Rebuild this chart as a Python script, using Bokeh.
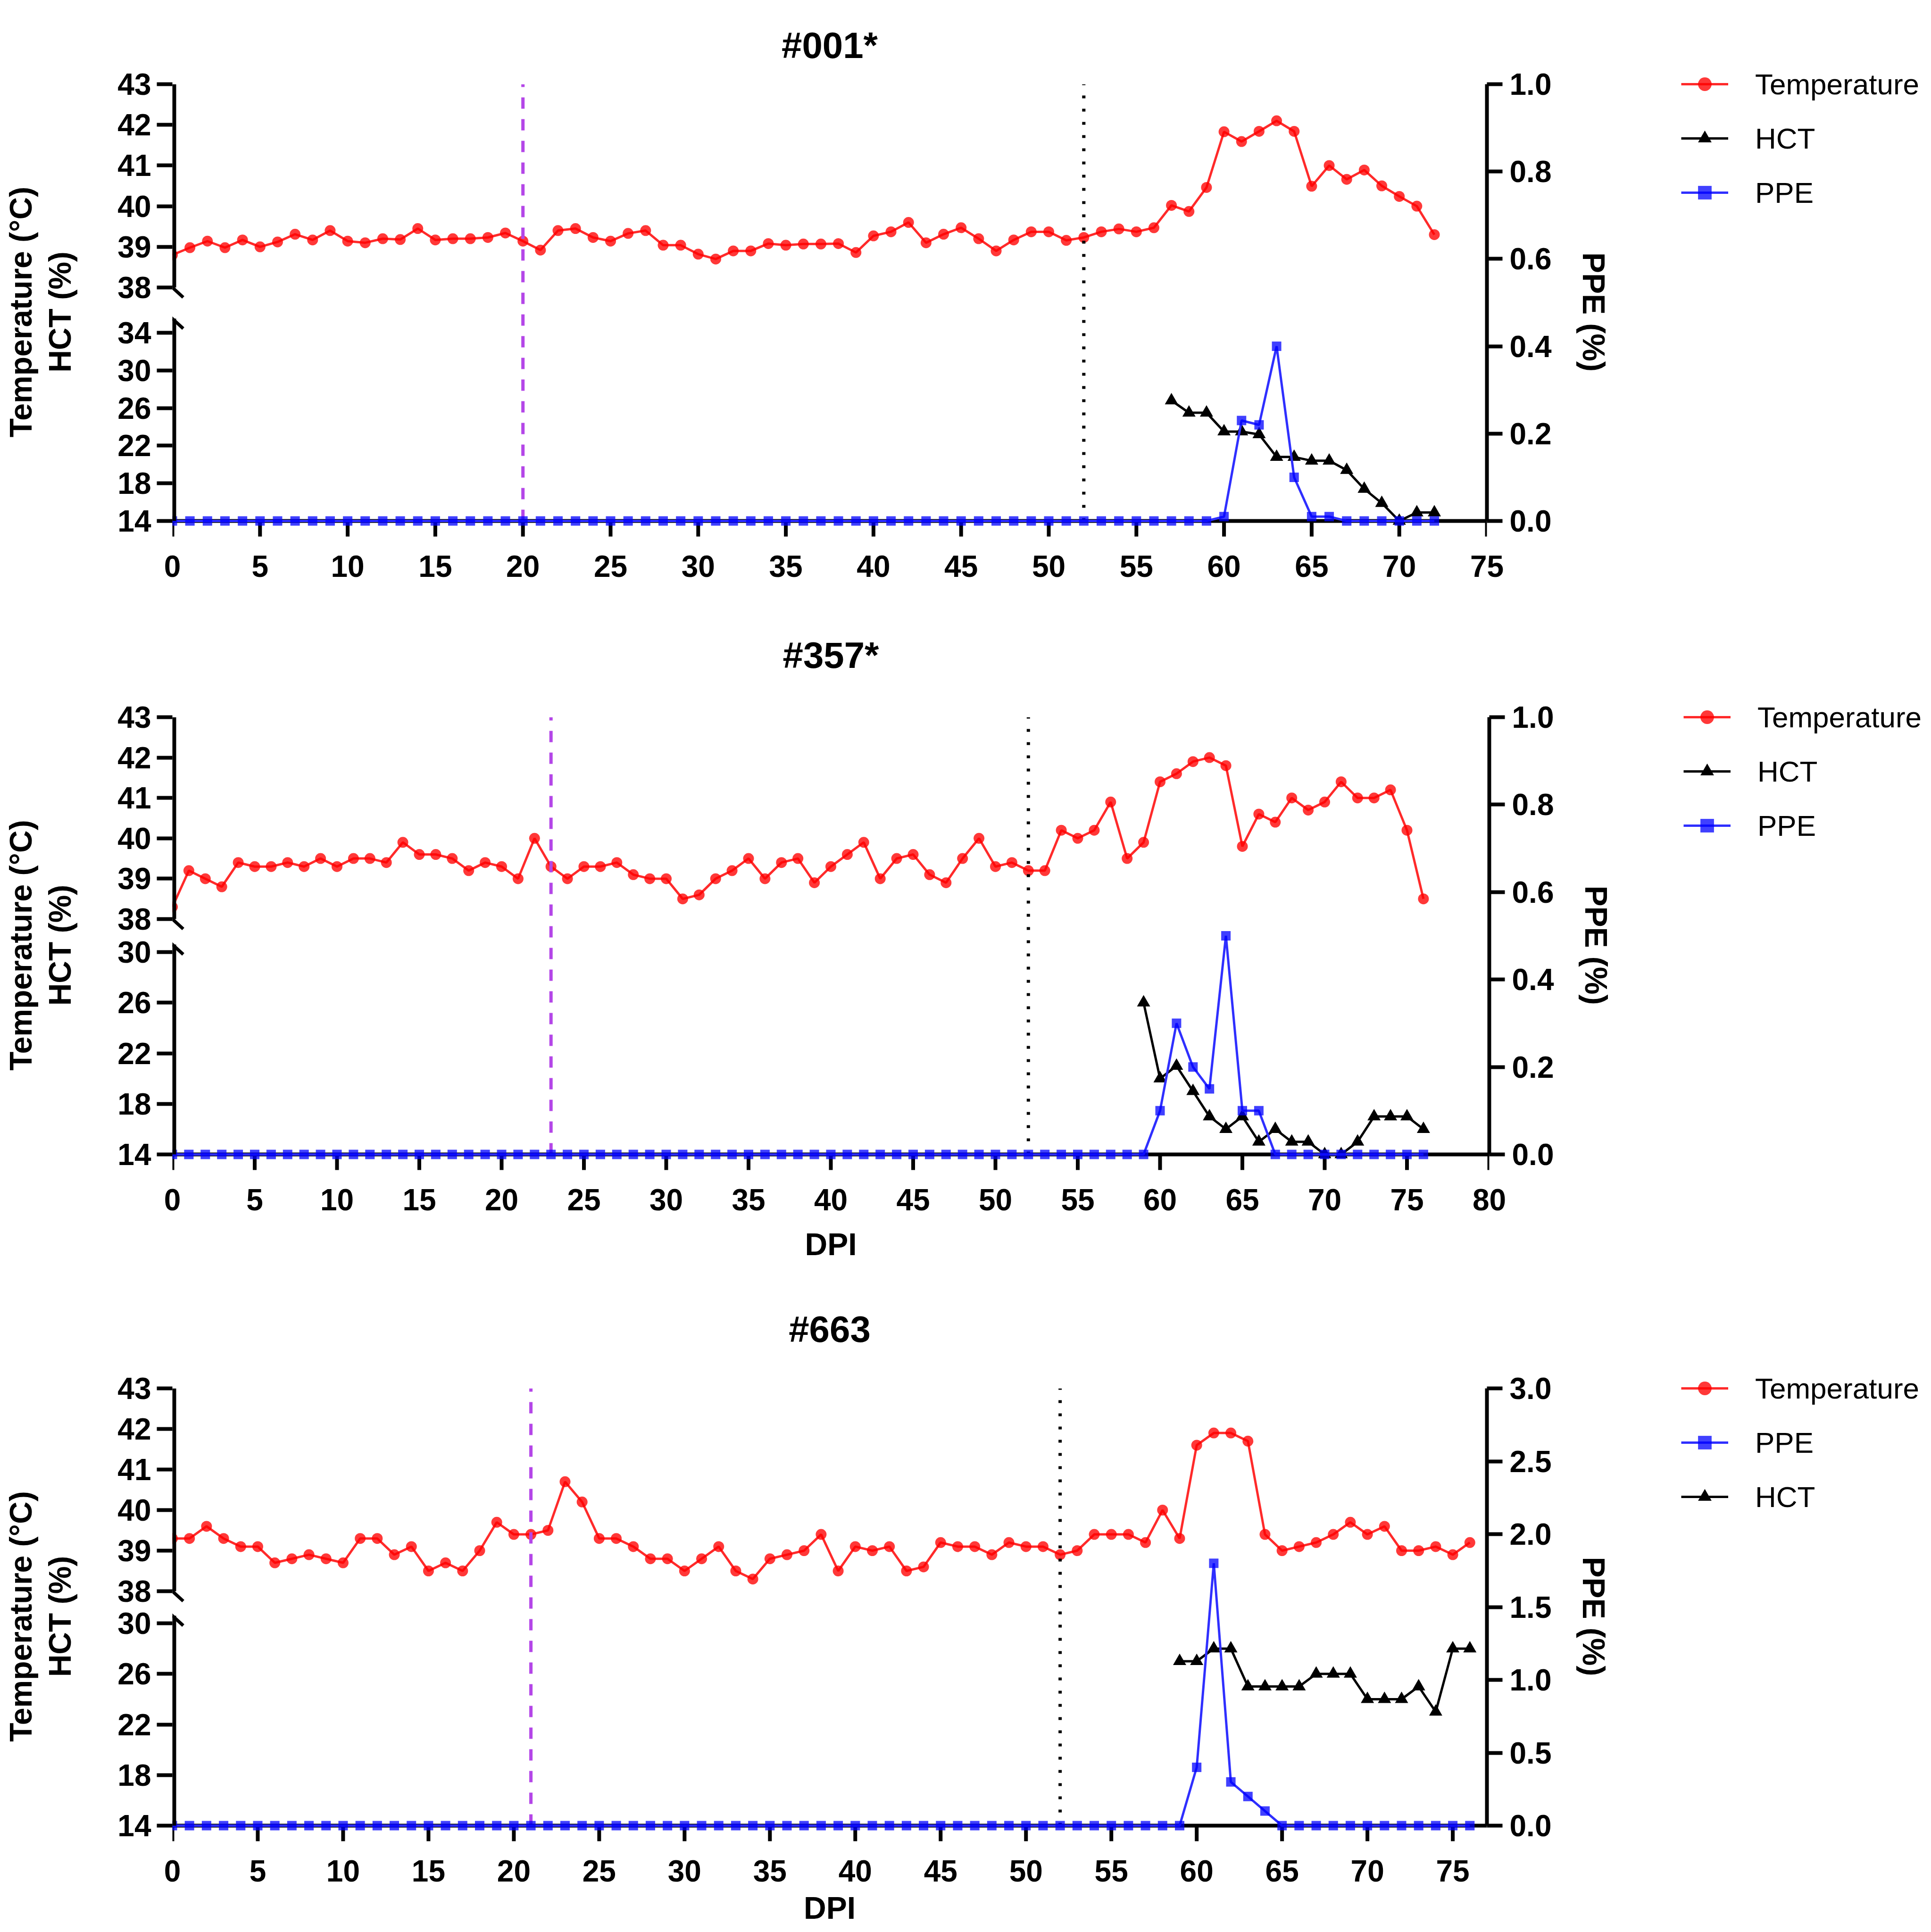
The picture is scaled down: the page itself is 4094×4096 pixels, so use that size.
from bokeh.plotting import figure
from bokeh.layouts import column
from bokeh.models import (Range1d, LinearAxis, FixedTicker, PrintfTickFormatter,
                          Legend, LegendItem)
from bokeh.embed import file_html
from bokeh.resources import INLINE

FONT = "Liberation Sans"
RED = "#FF2A2A"
BLUE = "#2F2FFF"
PURPLE = "#B446E8"

titles = ["#001*", "#357*", "#663"]

# ---------------- data: #001* ----------------
temp_001 = [38.8, 38.98, 39.14, 38.98, 39.17, 39.0, 39.12, 39.31, 39.17, 39.4,
            39.14, 39.1, 39.2, 39.18, 39.45, 39.17, 39.2, 39.2, 39.23, 39.34,
            39.14, 38.92, 39.4, 39.45, 39.23, 39.14, 39.33, 39.4, 39.04, 39.04,
            38.82, 38.7, 38.9, 38.9, 39.08, 39.04, 39.07, 39.07, 39.08, 38.86,
            39.27, 39.37, 39.6, 39.1, 39.31, 39.47, 39.2, 38.9, 39.17, 39.37,
            39.37, 39.16, 39.23, 39.37, 39.44, 39.37, 39.47, 40.02, 39.87, 40.46,
            41.83, 41.59, 41.84, 42.1, 41.84, 40.49, 41.0, 40.66, 40.89, 40.5,
            40.24, 40.0, 39.3]
hct_days_001 = [57, 58, 59, 60, 61, 62, 63, 64, 65, 66, 67, 68, 69, 70, 71, 72]
hct_001 = [26.8, 25.5, 25.5, 23.5, 23.5, 23.2, 20.8, 20.8, 20.4, 20.4, 19.4,
           17.4, 15.9, 14.0, 14.9, 14.9]
ppe_001 = [0.0] * 60 + [0.01, 0.23, 0.22, 0.40, 0.10, 0.01, 0.01,
                        0.0, 0.0, 0.0, 0.0, 0.0, 0.0]

# ---------------- data: #357* ----------------
temp_357 = [38.3, 39.2, 39.0, 38.8, 39.4, 39.3, 39.3, 39.4, 39.3, 39.5,
            39.3, 39.5, 39.5, 39.4, 39.9, 39.6, 39.6, 39.5, 39.2, 39.4,
            39.3, 39.0, 40.0, 39.3, 39.0, 39.3, 39.3, 39.4, 39.1, 39.0,
            39.0, 38.5, 38.6, 39.0, 39.2, 39.5, 39.0, 39.4, 39.5, 38.9,
            39.3, 39.6, 39.9, 39.0, 39.5, 39.6, 39.1, 38.9, 39.5, 40.0,
            39.3, 39.4, 39.2, 39.2, 40.2, 40.0, 40.2, 40.9, 39.5, 39.9,
            41.4, 41.6, 41.9, 42.0, 41.8, 39.8, 40.6, 40.4, 41.0, 40.7,
            40.9, 41.4, 41.0, 41.0, 41.2, 40.2, 38.5]
hct_days_357 = list(range(59, 77))
hct_357 = [26, 20, 21, 19, 17, 16, 17, 15, 16, 15, 15, 14, 14, 15, 17, 17, 17, 16]
ppe_357 = [0.0] * 60 + [0.1, 0.3, 0.2, 0.15, 0.5, 0.1, 0.1,
                        0.0, 0.0, 0.0, 0.0, 0.0, 0.0, 0.0, 0.0, 0.0, 0.0]

# ---------------- data: #663 ----------------
temp_663 = [39.3, 39.3, 39.6, 39.3, 39.1, 39.1, 38.7, 38.8, 38.9, 38.8,
            38.7, 39.3, 39.3, 38.9, 39.1, 38.5, 38.7, 38.5, 39.0, 39.7,
            39.4, 39.4, 39.5, 40.7, 40.2, 39.3, 39.3, 39.1, 38.8, 38.8,
            38.5, 38.8, 39.1, 38.5, 38.3, 38.8, 38.9, 39.0, 39.4, 38.5,
            39.1, 39.0, 39.1, 38.5, 38.6, 39.2, 39.1, 39.1, 38.9, 39.2,
            39.1, 39.1, 38.9, 39.0, 39.4, 39.4, 39.4, 39.2, 40.0, 39.3,
            41.6, 41.9, 41.9, 41.7, 39.4, 39.0, 39.1, 39.2, 39.4, 39.7,
            39.4, 39.6, 39.0, 39.0, 39.1, 38.9, 39.2]
hct_days_663 = list(range(59, 77))
hct_663 = [27, 27, 28, 28, 25, 25, 25, 25, 26, 26, 26, 24, 24, 24, 25, 23, 28, 28]
ppe_663 = [0.0] * 60 + [0.4, 1.8, 0.3, 0.2, 0.1] + [0.0] * 12

# vertical event lines (DPI): first = purple dashed, second = black dotted
events_001 = [20, 52]
events_357 = [23, 52]
events_663 = [21, 52]

temp_ticks = [38, 39, 40, 41, 42, 43]
hct_ticks_001 = [14, 18, 22, 26, 30, 34]
hct_ticks_other = [14, 18, 22, 26, 30]

PAD = 40        # frame space below the x axis line (px)
TICK = 33       # tick length (px)


def style_axis(ax):
    ax.axis_line_width = 8
    ax.axis_line_color = "black"
    ax.major_tick_line_width = 8
    ax.major_tick_line_color = "black"
    ax.major_tick_out = TICK
    ax.major_tick_in = 0
    ax.minor_tick_line_color = None
    ax.major_label_text_font = FONT
    ax.major_label_text_font_style = "bold"
    ax.major_label_text_font_size = "64px"
    ax.major_label_text_color = "black"
    ax.axis_label_text_font = FONT
    ax.axis_label_text_font_style = "bold"
    ax.axis_label_text_font_size = "66px"
    ax.axis_label_text_color = "black"


def make_panel(title, temp, hct_days, hct, ppe, events, xmax, ppe_max, ppe_step,
               hct_ticks, hct_break, legend_order, geom, xlabel, dpi_standoff):
    H = geom["H"]          # px from x axis (PPE 0) to frame top (PPE max)
    fw = geom["axis_px"]   # frame width (day 0 .. xmax)
    y38 = geom["y38"]      # px above the x axis of temperature 38
    yh = geom["yh"]        # px above the x axis of the top HCT tick
    T = geom["top"]
    ppd = fw / xmax
    fh = H + PAD

    p_pp = ppe_max / H
    t_pp = 5.0 / (H - y38)
    h_pp = (hct_ticks[-1] - 14) / yh
    t_lo = 38 - (y38 + PAD) * t_pp
    h_lo = 14 - PAD * h_pp
    h_hi = 14 + H * h_pp

    p = figure(frame_width=fw, frame_height=fh,
               x_range=Range1d(0, xmax), y_range=Range1d(-PAD * p_pp, ppe_max),
               output_backend="svg", toolbar_location=None,
               x_axis_location=None, y_axis_location=None,
               min_border_left=365, min_border_right=4078 - 365 - fw,
               min_border_top=T, min_border_bottom=geom["bottom"])
    p.extra_y_ranges = {"temp": Range1d(t_lo, 43), "hct": Range1d(h_lo, h_hi)}
    p.grid.visible = False
    p.outline_line_color = None
    p.background_fill_color = "white"
    p.border_fill_color = "white"

    # title
    p.title.text = title
    p.title.align = "center"
    p.title.text_font = FONT
    p.title.text_font_style = "bold"
    p.title.text_font_size = "78px"
    p.title.text_color = "black"
    p.title.standoff = max(T - 100, 0)

    # left axis: temperature (38-43) and HCT ticks on one broken axis
    def hct_to_temp(v):
        return round(38 - (y38 - (v - 14) / h_pp) * t_pp, 6)
    left_ticks = [float(t) for t in temp_ticks] + [hct_to_temp(v) for v in hct_ticks]
    overrides = {float(t): str(t) for t in temp_ticks}
    for v in hct_ticks:
        overrides[hct_to_temp(v)] = str(v)
    ax_l = LinearAxis(y_range_name="temp", ticker=FixedTicker(ticks=left_ticks),
                      major_label_overrides=overrides,
                      axis_label="Temperature (°C)\nHCT (%)")
    style_axis(ax_l)
    ax_l.axis_line_color = None
    ax_l.major_label_standoff = 12
    ax_l.axis_label_standoff = 82
    ax_l.axis_label_text_align = "center"
    ax_l.axis_label_text_line_height = 1.12
    p.add_layout(ax_l, "left")

    # right axis: PPE
    nppe = int(round(ppe_max / ppe_step))
    ppe_ticks = [round(i * ppe_step, 3) for i in range(nppe + 1)]
    ax_p = LinearAxis(ticker=FixedTicker(ticks=ppe_ticks), bounds=(0, ppe_max),
                      formatter=PrintfTickFormatter(format="%.1f"),
                      axis_label="PPE (%)")
    style_axis(ax_p)
    ax_p.major_label_standoff = 15
    ax_p.axis_label_standoff = 50
    p.add_layout(ax_p, "right")

    # bottom axis: labels only (line and ticks are drawn at PPE 0 below)
    x_ticks = list(range(0, xmax + 1, 5))
    ax_x = LinearAxis(ticker=FixedTicker(ticks=x_ticks), axis_label=xlabel)
    style_axis(ax_x)
    ax_x.axis_line_color = None
    ax_x.major_tick_line_color = None
    ax_x.major_tick_out = 0
    ax_x.major_label_standoff = 33
    ax_x.axis_label_standoff = dpi_standoff
    p.add_layout(ax_x, "below")

    # temperature
    tdays = list(range(len(temp)))
    r_tl = p.line(tdays, temp, y_range_name="temp", line_color=RED, line_width=5)
    r_ts = p.scatter(tdays, temp, y_range_name="temp", marker="circle", size=23,
                     fill_color="#FF0000", fill_alpha=0.78, line_color=None)

    # event lines
    p.segment(x0=[events[0]], y0=[0], x1=[events[0]], y1=[ppe_max],
              line_color=PURPLE, line_width=7, line_dash="24 22")
    p.segment(x0=[events[1]], y0=[0], x1=[events[1]], y1=[ppe_max],
              line_color="black", line_width=7, line_dash="6 22")

    # HCT
    r_hl = p.line(hct_days, hct, y_range_name="hct", line_color="black", line_width=5)
    r_hs = p.scatter(hct_days, hct, y_range_name="hct", marker="triangle", size=28,
                     fill_color="black", line_color=None)

    # x axis line and ticks at PPE 0
    p.segment(x0=[0], y0=[0], x1=[xmax], y1=[0], line_color="black", line_width=8)
    p.segment(x0=x_ticks, y0=[0] * len(x_ticks), x1=x_ticks,
              y1=[-TICK * p_pp] * len(x_ticks), line_color="black", line_width=8)

    # PPE
    pdays = list(range(len(ppe)))
    r_pl = p.line(pdays, ppe, line_color=BLUE, line_width=5)
    r_ps = p.scatter(pdays, ppe, marker="square", size=20,
                     fill_color="#0000FF", fill_alpha=0.75, line_color=None)

    # broken left axis line (two pieces) with break marks
    p.segment(x0=[0], y0=[38], x1=[0], y1=[43], y_range_name="temp",
              line_color="black", line_width=16)
    p.segment(x0=[0], y0=[14], x1=[0], y1=[hct_break], y_range_name="hct",
              line_color="black", line_width=16)
    sx = 23 / ppd
    p.segment(x0=[-sx], y0=[38 + 21 * t_pp], x1=[sx], y1=[38 - 21 * t_pp],
              y_range_name="temp", line_color="black", line_width=7)
    p.segment(x0=[-sx], y0=[hct_break + 21 * h_pp], x1=[sx],
              y1=[hct_break - 21 * h_pp], y_range_name="hct",
              line_color="black", line_width=7)

    # legend (right of the PPE axis)
    rmap = {"Temperature": [r_tl, r_ts], "HCT": [r_hl, r_hs], "PPE": [r_pl, r_ps]}
    items = [LegendItem(label=k, renderers=rmap[k]) for k in legend_order]
    lh = 3 * 72 + 2 * 43
    legend = Legend(items=items, location=(-55, fh + 36 - lh),
                    label_text_font=FONT, label_text_font_size="62px",
                    label_text_color="black",
                    glyph_width=100, glyph_height=72, label_height=72,
                    label_standoff=57, spacing=43, padding=0, margin=0,
                    border_line_color=None, background_fill_alpha=0)
    p.add_layout(legend, "right")
    return p


p1 = make_panel(titles[0], temp_001, hct_days_001, hct_001, ppe_001, events_001,
                xmax=75, ppe_max=1.0, ppe_step=0.2, hct_ticks=hct_ticks_001,
                hct_break=35.5, legend_order=["Temperature", "HCT", "PPE"],
                geom=dict(H=926, axis_px=2787, y38=495, yh=399, top=178,
                          bottom=101), xlabel=None, dpi_standoff=20)
p2 = make_panel(titles[1], temp_357, hct_days_357, hct_357, ppe_357, events_357,
                xmax=80, ppe_max=1.0, ppe_step=0.2, hct_ticks=hct_ticks_other,
                hct_break=30.6, legend_order=["Temperature", "HCT", "PPE"],
                geom=dict(H=927, axis_px=2792, y38=499, yh=429, top=275,
                          bottom=192), xlabel="DPI", dpi_standoff=32)
p3 = make_panel(titles[2], temp_663, hct_days_663, hct_663, ppe_663, events_663,
                xmax=77, ppe_max=3.0, ppe_step=0.5, hct_ticks=hct_ticks_other,
                hct_break=30.6, legend_order=["Temperature", "PPE", "HCT"],
                geom=dict(H=927, axis_px=2787, y38=497, yh=429, top=264,
                          bottom=175), xlabel="DPI", dpi_standoff=16)

layout = column(p1, p2, p3)
open("out.html", "w").write(file_html(layout, INLINE))
